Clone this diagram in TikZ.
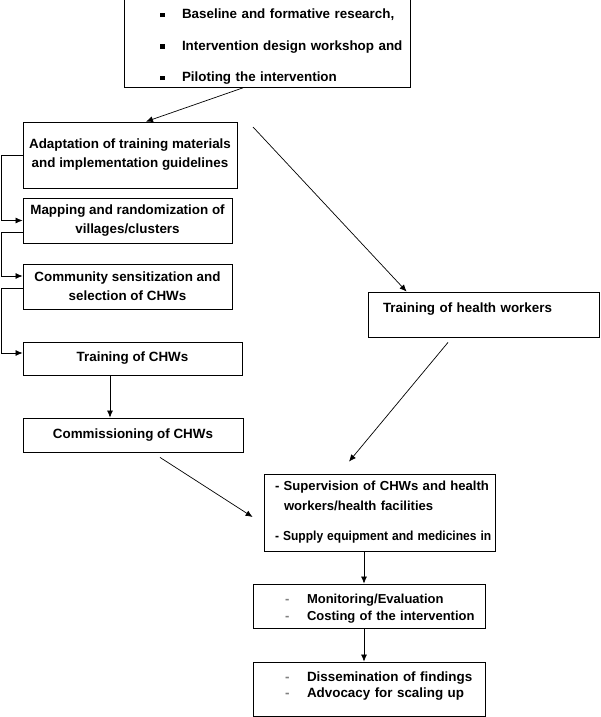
\documentclass[tikz,border=0pt]{standalone}
\usepackage{fontspec}
\usepackage{graphicx}
\setmainfont{Liberation Sans}
\usetikzlibrary{arrows.meta}
\newcommand{\testo}{\fontsize{13.4}{19}\selectfont\bfseries}
\newcommand{\puntino}{\raisebox{1.5pt}{\rule{4.5pt}{4.5pt}}}
\newcommand{\trattino}{\makebox[22pt][l]{\textcolor{gray}{-}}}

\begin{document}
\begin{tikzpicture}[x=1pt, y=-1pt,
    riquadro/.style = {draw, line width=0.8pt, inner sep=3pt, font=\testo, align=center},
    sinistra/.style = {riquadro, align=left},
    freccia/.style = {-{Latex[length=7pt, width=6pt]}, line width=0.7pt}]
    % Bordi
    \useasboundingbox (0,0) rectangle (600,717);
    % Riquadri
    \node[sinistra, minimum width=286pt, minimum height=88pt, text width=280pt] (inizio) at (267,43)
      {\rule{0pt}{17pt}\hspace*{33pt}\puntino\hspace{17.5pt}Baseline and formative research,\\[12.5pt]
       \hspace*{33pt}\puntino\hspace{17.5pt}Intervention design workshop and\\[12.5pt]
       \hspace*{33pt}\puntino\hspace{17.5pt}Piloting the intervention};
    \node[riquadro, minimum width=214pt, minimum height=66pt] (adatt) at (130,155)
      {Adaptation of training materials\\and implementation guidelines};
    \node[riquadro, minimum width=209pt, minimum height=45pt] (mappa) at (127.5,220.5)
      {Mapping and randomization of\\villages/clusters};
    \node[riquadro, minimum width=209pt, minimum height=45pt] (sensib) at (127.5,286.5)
      {Community sensitization and\\selection of CHWs};
    \node[riquadro, minimum width=219pt, minimum height=33pt] (formCHW) at (132.5,358.5) {Training of CHWs};
    \node[riquadro, minimum width=220pt, minimum height=34pt] (incarico) at (133,435) {Commissioning of CHWs};
    \node[sinistra, minimum width=231pt, minimum height=45pt, text width=225pt] (formOper) at (483.5,314.5)
      {\hspace*{12pt}Training of health workers\\[-6pt] \mbox{}};
    \node[sinistra, font=\fontsize{13.1}{19}\selectfont\bfseries, minimum width=231pt, minimum height=77pt, text width=225pt] (superv) at (379.5,512.5)
      {\mbox{\hspace*{8pt}- Supervision of CHWs and health}\\[1pt]
       \mbox{\hspace*{17pt}workers/health facilities}\\[11pt]
       \mbox{\hspace*{8pt}\scalebox{0.92}[1]{- Supply equipment and medicines in}}};
    \node[sinistra, font=\fontsize{13}{17}\selectfont\bfseries, minimum width=232pt, minimum height=44pt, text width=226pt] (monit) at (369,606)
      {\rule{0pt}{14pt}\hspace*{29pt}\trattino Monitoring/Evaluation\\
       \hspace*{29pt}\trattino Costing of the intervention};
    \node[sinistra, font=\fontsize{13.4}{16}\selectfont\bfseries, minimum width=232pt, minimum height=54pt, text width=226pt] (diffus) at (369,689)
      {\hspace*{29pt}\trattino Dissemination of findings\\
       \hspace*{29pt}\trattino Advocacy for scaling up\\[-7pt] \mbox{}};
    % Frecce
    \draw[freccia] ([xshift=-24pt]inizio.south) -- ([xshift=16pt]adatt.north);
    \coordinate (partenza) at (253,127);
    \draw[freccia] (partenza) -- ([xshift=39pt]formOper.north west);
    \draw[freccia] (adatt.west) -- ++(-21,0) |- (mappa.west);
    \draw[freccia] ([yshift=-11.5pt]mappa.west) -- ++(-21,0) |- ([yshift=10.5pt]sensib.west);
    \draw[freccia] ([yshift=-1.5pt]sensib.west) -- ++(-21,0) |- ([yshift=5.5pt]formCHW.west);
    \coordinate (discesa) at ([xshift=-22.5pt]formCHW.south);
    \draw[freccia] (discesa) -- (discesa |- incarico.north);
    \draw[freccia] ([xshift=27pt, yshift=-5pt]incarico.south) -- ([xshift=-11pt, yshift=-4.5pt]superv.west);
    \draw[freccia] ([xshift=-35.5pt, yshift=-5pt]formOper.south) -- ([xshift=-30.5pt, yshift=12pt]superv.north);
    \coordinate (asse) at ([xshift=-15.5pt]superv.south);
    \draw[freccia] (asse) -- (asse |- monit.north);
    \draw[freccia] (asse |- monit.south) -- (asse |- diffus.north);
\end{tikzpicture}
\end{document}
